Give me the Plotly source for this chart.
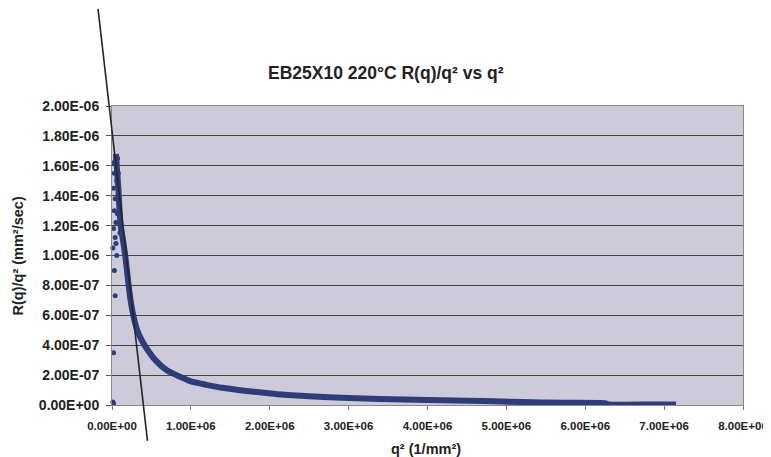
import plotly.graph_objects as go

# ---- data ----
# main band: q^2 (1/mm^2) and R(q)/q^2 (mm^2/sec)
curve_q2 = [0.05e6, 0.08e6, 0.11e6, 0.14e6, 0.17e6, 0.20e6, 0.23e6, 0.27e6, 0.32e6,
            0.38e6, 0.45e6, 0.55e6, 0.70e6, 0.87e6, 1.0e6, 1.2e6, 1.4e6, 1.6e6,
            1.8e6, 2.1e6, 2.5e6, 3.0e6, 3.4e6, 4.0e6, 4.7e6, 5.2e6, 5.7e6, 6.25e6,
            6.3e6, 6.8e6, 7.15e6]
curve_r = [1.68e-6, 1.45e-6, 1.20e-6, 1.10e-6, 0.99e-6, 0.85e-6, 0.72e-6, 0.60e-6, 0.50e-6,
           0.43e-6, 0.37e-6, 0.30e-6, 0.23e-6, 0.187e-6, 0.158e-6, 0.135e-6, 0.115e-6, 0.10e-6,
           0.088e-6, 0.072e-6, 0.058e-6, 0.047e-6, 0.040e-6, 0.033e-6, 0.027e-6, 0.020e-6,
           0.015e-6, 0.012e-6, 0.004e-6, 0.003e-6, 0.003e-6]

# scattered points near q^2 = 0
scatter_q2 = [0.02e6, 0.03e6, 0.02e6, 0.04e6, 0.03e6, 0.05e6, 0.02e6, 0.04e6, 0.01e6,
              0.06e6, 0.03e6, 0.04e6, 0.02e6, 0.01e6, 0.02e6, 0.07e6, 0.08e6, 0.06e6,
              0.09e6, 0.07e6, 0.10e6, 0.05e6]
scatter_r = [1.62e-6, 1.55e-6, 1.45e-6, 1.38e-6, 1.30e-6, 1.22e-6, 1.18e-6, 1.12e-6, 1.05e-6,
             1.00e-6, 0.90e-6, 0.73e-6, 0.35e-6, 0.02e-6, 0.01e-6, 1.65e-6, 1.55e-6, 1.50e-6,
             1.35e-6, 1.28e-6, 1.15e-6, 1.08e-6]

# hand-drawn straight line (data units)
trend_q2 = [-0.177e6, 0.450e6]
trend_r = [2.65e-6, -0.24e-6]

x_ticks = [0, 1e6, 2e6, 3e6, 4e6, 5e6, 6e6, 7e6, 8e6]
x_ticklabels = ["0.00E+00", "1.00E+06", "2.00E+06", "3.00E+06", "4.00E+06",
                "5.00E+06", "6.00E+06", "7.00E+06", "8.00E+06"]
y_ticks = [0, 0.2e-6, 0.4e-6, 0.6e-6, 0.8e-6, 1.0e-6, 1.2e-6, 1.4e-6, 1.6e-6, 1.8e-6, 2.0e-6]
y_ticklabels = ["0.00E+00", "2.00E-07", "4.00E-07", "6.00E-07", "8.00E-07", "1.00E-06",
                "1.20E-06", "1.40E-06", "1.60E-06", "1.80E-06", "2.00E-06"]

TITLE = "EB25X10 220°C R(q)/q² vs q²"
X_TITLE = "q² (1/mm²)"
Y_TITLE = "R(q)/q² (mm²/sec)"

X_RANGE = [0, 8e6]
Y_RANGE = [0, 2e-6]

FONT = "Arial, 'Liberation Sans', sans-serif"
NAVY = "#2f3c7a"
TXT = "#222222"

fig = go.Figure()
fig.add_trace(go.Scatter(x=curve_q2, y=curve_r, mode="lines",
                         line=dict(color=NAVY, width=6, shape="spline", smoothing=0.6),
                         hoverinfo="skip", showlegend=False))
fig.add_trace(go.Scatter(x=scatter_q2, y=scatter_r, mode="markers",
                         marker=dict(color=NAVY, size=5),
                         cliponaxis=False, showlegend=False))

# straight line drawn across the chart (not clipped) -> paper coordinates from data
def to_px(v):
    return (v - X_RANGE[0]) / (X_RANGE[1] - X_RANGE[0])

def to_py(v):
    return (v - Y_RANGE[0]) / (Y_RANGE[1] - Y_RANGE[0])

fig.add_shape(type="line", xref="paper", yref="paper",
              x0=to_px(trend_q2[0]), y0=to_py(trend_r[0]),
              x1=to_px(trend_q2[1]), y1=to_py(trend_r[1]),
              line=dict(color="#262626", width=1.6))

fig.update_layout(
    width=771, height=457,
    margin=dict(l=103.5, r=36, t=97.5, b=60),
    paper_bgcolor="white",
    plot_bgcolor="#cdcbda",
    font=dict(family=FONT, color=TXT),
    showlegend=False,
    annotations=[
        dict(text="<b>%s</b>" % TITLE, xref="paper", yref="paper", x=0.435, y=1.112,
             xanchor="center", yanchor="middle", showarrow=False,
             font=dict(size=17.5, family=FONT, color=TXT)),
        dict(text="<b>%s</b>" % X_TITLE, xref="paper", yref="paper", x=0.498, y=-0.147,
             xanchor="center", yanchor="middle", showarrow=False,
             font=dict(size=14.5, family=FONT, color=TXT)),
        dict(text="<b>%s</b>" % Y_TITLE, xref="paper", yref="paper", x=-0.149, y=0.50,
             xanchor="center", yanchor="middle", showarrow=False, textangle=-90,
             font=dict(size=14.5, family=FONT, color=TXT)),
    ],
)
fig.update_xaxes(range=X_RANGE, tickvals=x_ticks, ticktext=["<b>%s</b>" % t for t in x_ticklabels],
                 tickfont=dict(size=11.5, family=FONT, color=TXT),
                 showgrid=False, zeroline=False,
                 showline=True, linecolor="#888", linewidth=1, mirror=True,
                 ticks="outside", ticklen=4, tickcolor="#777", ticklabelstandoff=6)
fig.update_yaxes(range=Y_RANGE, tickvals=y_ticks, ticktext=["<b>%s</b>" % t for t in y_ticklabels],
                 tickfont=dict(size=14, family=FONT, color=TXT),
                 showgrid=True, gridcolor="#454545", gridwidth=1.3, zeroline=False,
                 showline=True, linecolor="#888", linewidth=1, mirror=True,
                 ticks="outside", ticklen=5, tickcolor="#555", ticklabelstandoff=4)

fig.write_html("out.html")
